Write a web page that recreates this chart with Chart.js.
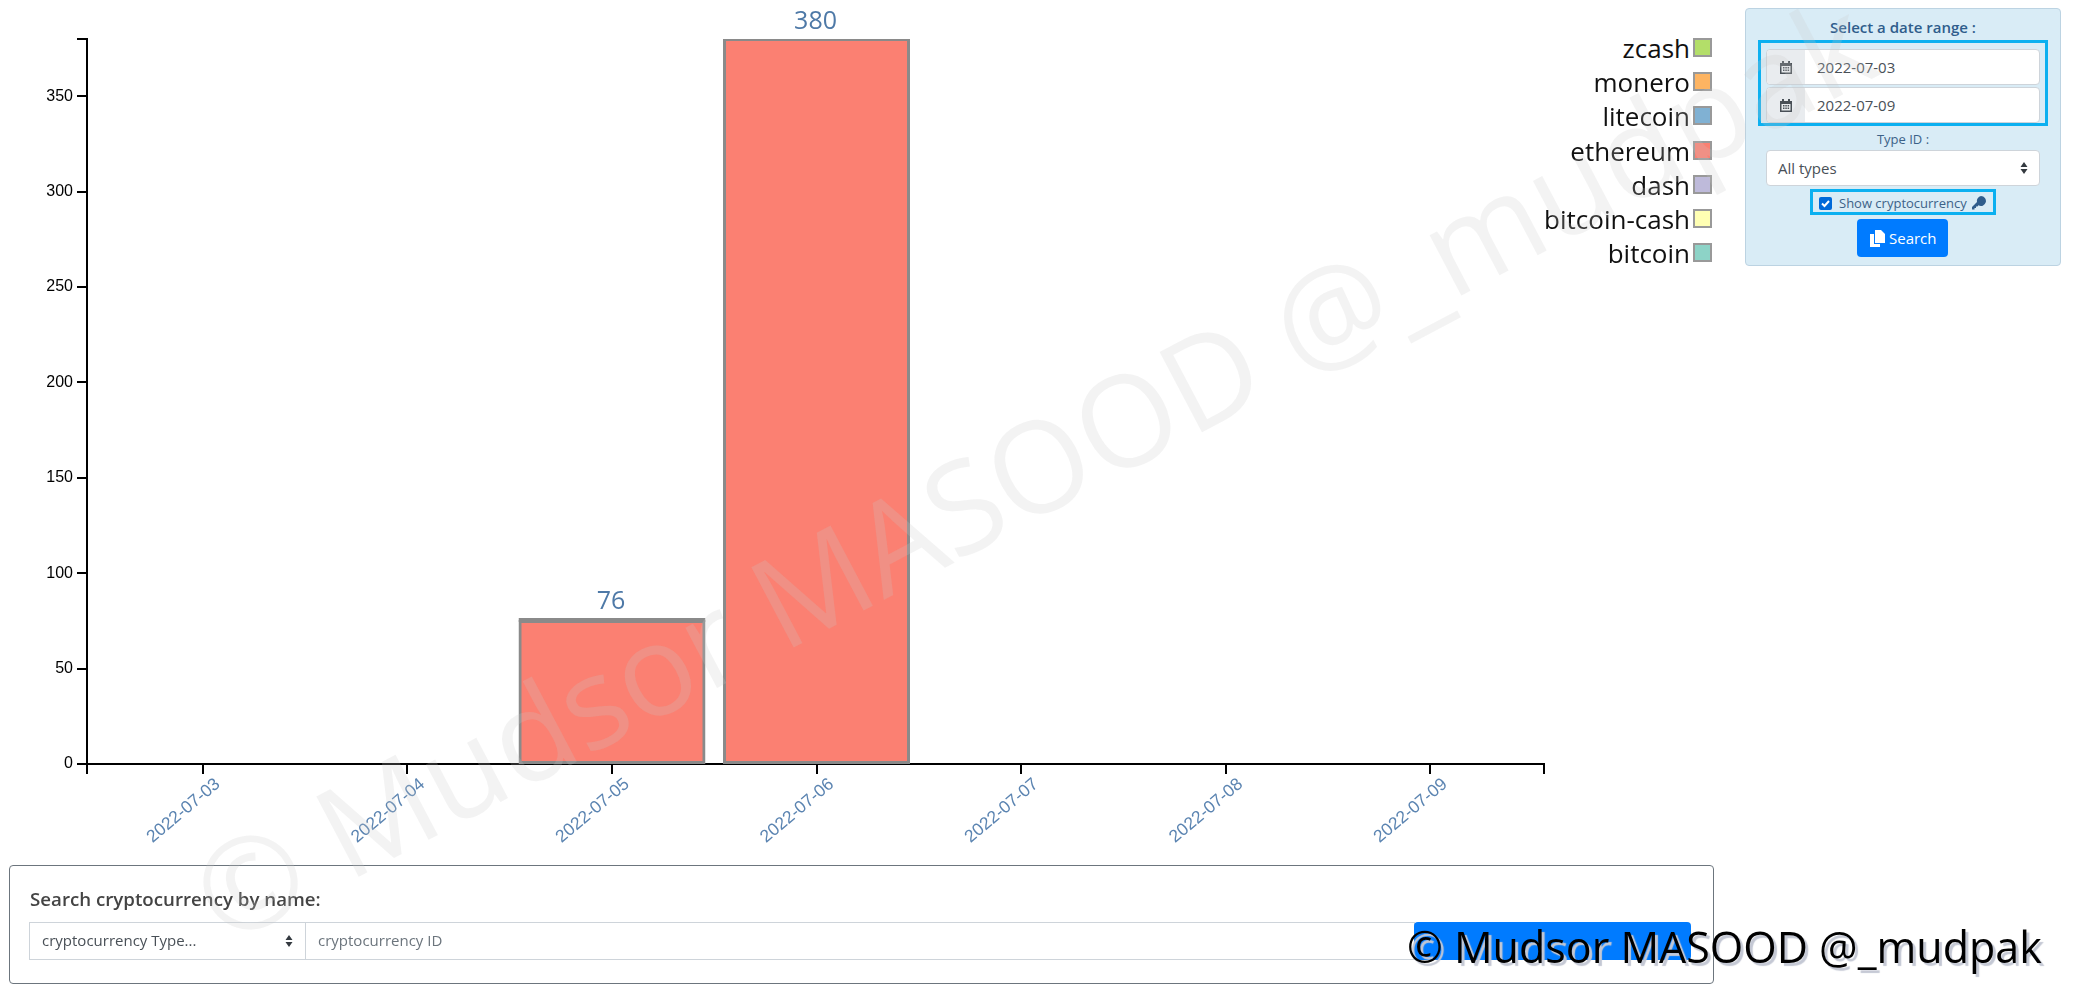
<!DOCTYPE html>
<html>
<head>
<meta charset="utf-8">
<title>cryptocurrency</title>
<script src="https://cdn.jsdelivr.net/npm/chart.js@4"></script>
<style>
    html, body { margin: 0; padding: 0; background: #fff; overflow: hidden; }
    body { width: 2074px; height: 987px; position: relative; font-family: "Open Sans", sans-serif; }
    .abs { position: absolute; box-sizing: border-box; }
    #chart { position: absolute; left: 0; top: 0; }
    .legend-text { position: absolute; right: 384px; font-size: 26px; line-height: 34px; color: #111; white-space: nowrap; }
    .legend-box { position: absolute; left: 1693px; width: 19px; height: 19px; border: 2px solid #999; box-sizing: border-box; }
    .panel { left: 1745px; top: 8px; width: 316px; height: 258px; background: #d9ecf6; border: 1px solid #bcd3e2; border-radius: 4px; }
    .hl { border: 3px solid #0cb0f0; }
    .field { background: #fff; border: 1px solid #ced4da; border-radius: 4px; color: #495057; font-size: 15px; }
    .addon { background: #e9ecef; border-radius: 4px 0 0 4px; display: flex; align-items: center; justify-content: center; }
    .txt { position: absolute; white-space: nowrap; }
    .btn { background: #007bff; border-radius: 4px; color: #fff; }
    .wm-big { position: absolute; left: 202px; top: 840px; font-size: 127px; white-space: nowrap; color: rgba(200, 200, 200, 0.22);
        transform: rotate(-27.8deg); transform-origin: 0 50%; pointer-events: none; line-height: 1; }
    .wm-small { position: absolute; left: 1407px; top: 922px; font-size: 43px; line-height: 50px; white-space: nowrap; color: #000;
        text-shadow: 3px 3px 1px #c4c8d4; }
</style>
</head>
<body>
<canvas id="chart" width="1600" height="880"></canvas>
<div id="legend"></div>

<div class="abs panel"></div>
<div class="txt" style="left:1745px;width:316px;text-align:center;top:17px;font-size:15px;font-weight:600;color:#2f5d8c;">Select a date range :</div>
<div class="abs hl" style="left:1758px;top:40px;width:290px;height:86px;"></div>
<div class="abs field" style="left:1766px;top:49px;width:274px;height:36px;"></div>
<div class="abs addon" style="left:1767px;top:50px;width:38px;height:34px;"><svg width="14" height="15" viewBox="0 0 14 15"><path fill="#495057" d="M1 3h2V1h2v2h4V1h2v2h2v11H1zM2.500 6v6.500h9V6zM4 7h1.500v1.500H4zM6.300 7h1.500v1.500H6.300zM8.600 7h1.500v1.500H8.600zM4 9.500h1.500V11H4zM6.300 9.500h1.500V11H6.300zM8.600 9.500h1.500V11H8.600z"/></svg></div>
<div class="txt" style="left:1817px;top:57px;font-size:15px;color:#495057;">2022-07-03</div>
<div class="abs field" style="left:1766px;top:87px;width:274px;height:36px;"></div>
<div class="abs addon" style="left:1767px;top:88px;width:38px;height:34px;"><svg width="14" height="15" viewBox="0 0 14 15"><path fill="#495057" d="M1 3h2V1h2v2h4V1h2v2h2v11H1zM2.500 6v6.500h9V6zM4 7h1.500v1.500H4zM6.300 7h1.500v1.500H6.300zM8.600 7h1.500v1.500H8.600zM4 9.500h1.500V11H4zM6.300 9.500h1.500V11H6.300zM8.600 9.500h1.500V11H8.600z"/></svg></div>
<div class="txt" style="left:1817px;top:95px;font-size:15px;color:#495057;">2022-07-09</div>
<div class="txt" style="left:1745px;width:316px;text-align:center;top:130px;font-size:13px;color:#3c6288;">Type ID :</div>
<div class="abs field" style="left:1766px;top:150px;width:274px;height:36px;"></div>
<div class="txt" style="left:1778px;top:158px;font-size:15px;color:#495057;">All types</div>
<svg class="abs" style="left:2020px;top:162px;" width="8" height="12" viewBox="0 0 8 12"><path fill="#343a40" d="M4 0l3.500 5H.5zM4 12L.5 7h7z"/></svg>
<div class="abs hl" style="left:1810px;top:189px;width:186px;height:26px;"></div>
<div class="abs" style="left:1819px;top:197px;width:13px;height:13px;background:#0069d9;border-radius:2px;"><svg style="display:block" width="13" height="13" viewBox="0 0 13 13"><path fill="none" stroke="#fff" stroke-width="2" d="M3 6.500l2.500 2.500 4.500-5"/></svg></div>
<div class="txt" style="left:1839px;top:194px;font-size:13px;color:#3c6288;">Show cryptocurrency</div>
<svg class="abs" style="left:1972px;top:196px;" width="14" height="14" viewBox="0 0 14 14"><path fill="#2f5d8c" d="M9 0a5 5 0 1 1-2.600 9.300L5.500 10.500H4V12H2.500v1.500H0v-2.500l5-5A5 5 0 0 1 9 0z"/></svg>
<div class="abs btn" style="left:1857px;top:219px;width:91px;height:38px;"></div>
<svg class="abs" style="left:1870px;top:230px;" width="15" height="17" viewBox="0 0 15 17"><path fill="#fff" d="M5 0h6l4 4v9H5zM0 4h4v10h6v3H0z"/></svg>
<div class="txt" style="left:1889px;top:228px;font-size:15px;color:#fff;">Search</div>

<div class="abs" style="left:9px;top:865px;width:1705px;height:119px;border:1px solid #6c757d;border-radius:4px;"></div>
<div class="txt" style="left:30px;top:886px;font-size:18.700px;font-weight:600;color:#444;">Search cryptocurrency by name:</div>
<div class="abs" style="left:29px;top:922px;width:277px;height:38px;border:1px solid #ced4da;"></div>
<div class="txt" style="left:42px;top:930px;font-size:15px;color:#495057;">cryptocurrency Type...</div>
<svg class="abs" style="left:285px;top:935px;" width="8" height="12" viewBox="0 0 8 12"><path fill="#343a40" d="M4 0l3.500 5H.5zM4 12L.5 7h7z"/></svg>
<div class="abs" style="left:305px;top:922px;width:1110px;height:38px;border:1px solid #ced4da;border-left:0;"></div>
<div class="txt" style="left:318px;top:930px;font-size:15px;color:#6c757d;">cryptocurrency ID</div>
<div class="abs btn" style="left:1414px;top:922px;width:277px;height:38px;"></div>

<div class="wm-big">© Mudsor MASOOD @_mudpak</div>
<div class="wm-small">© Mudsor MASOOD @_mudpak</div>

<script>
const dates = ['2022-07-03', '2022-07-04', '2022-07-05', '2022-07-06', '2022-07-07', '2022-07-08', '2022-07-09'];

const bitcoin = [0, 0, 0, 0, 0, 0, 0];
const bitcoinCash = [0, 0, 0, 0, 0, 0, 0];
const dash = [0, 0, 0, 0, 0, 0, 0];
const ethereum = [0, 0, 75, 380, 0, 0, 0];
const litecoin = [0, 0, 0, 0, 0, 0, 0];
const monero = [0, 0, 1, 0, 0, 0, 0];
const zcash = [0, 0, 0, 0, 0, 0, 0];

const yTicks = [0, 50, 100, 150, 200, 250, 300, 350, 380];
const yMax = 380;
const xMin = -0.567;
const xMax = 6.557;

// stacked bottom to top, the legend lists them the other way round
const names = ['bitcoin', 'bitcoin-cash', 'dash', 'ethereum', 'litecoin', 'monero', 'zcash'];
const values = [bitcoin, bitcoinCash, dash, ethereum, litecoin, monero, zcash];
const colors = ['#8dd3c7', '#ffffb3', '#bebada', '#fb8072', '#80b1d3', '#fdb462', '#b3de69'];
const strokeColor = '#8a8a8a';

const totals = dates.map((d, i) => values.reduce((sum, v) => sum + v[i], 0));

const legend = document.getElementById('legend');
names.slice().reverse().forEach((name, i) => {
    const color = colors[names.length - 1 - i];
    legend.innerHTML += `<div class="legend-text" style="top:${31 + i * 34.2}px">${name}</div>` +
        `<div class="legend-box" style="top:${38 + i * 34.2}px;background:${color}"></div>`;
});

const totalLabels = {
    id: 'totalLabels',
    afterDatasetsDraw(chart) {
        const ctx = chart.ctx;
        ctx.save();
        ctx.font = '25px "Open Sans"';
        ctx.fillStyle = '#4e79a7';
        ctx.textAlign = 'center';
        ctx.textBaseline = 'alphabetic';
        totals.forEach((total, i) => {
            if (total > 0) {
                ctx.fillText(total, chart.scales.x.getPixelForValue(i) - 1, chart.scales.y.getPixelForValue(total) - 10);
            }
        });
        ctx.restore();
    }
};

const ctx = document.getElementById('chart').getContext('2d');
const chart = new Chart(ctx, {
    type: 'bar',
    data: {
        datasets: names.map((name, s) => ({
            label: name,
            // empty days stay null, otherwise inflateAmount draws a strip on the axis
            data: values[s].map((v, i) => ({ x: i, y: v > 0 ? v : null })),
            // a bar this short is nothing but its stroke
            backgroundColor: (c) => (c.raw && c.raw.y < 2 ? strokeColor : colors[s]),
            borderColor: strokeColor,
            borderWidth: 3,
            borderSkipped: false,
            inflateAmount: 1,
            barThickness: 185
        }))
    },
    plugins: [totalLabels],
    options: {
        responsive: false,
        animation: false,
        layout: { padding: { top: 39, right: 56 } },
        plugins: { legend: { display: false }, tooltip: { enabled: false } },
        scales: {
            x: {
                type: 'linear',
                stacked: true,
                offset: false,
                z: 1,
                min: xMin,
                max: xMax,
                afterBuildTicks: (scale) => {
                    scale.ticks = [xMin, ...dates.map((d, i) => i), xMax].map(v => ({ value: v }));
                },
                afterFit: (scale) => { scale.height = 116; },
                grid: { offset: false, drawOnChartArea: false, color: '#000', lineWidth: 2, tickLength: 10 },
                border: { color: '#000', width: 2 },
                ticks: {
                    autoSkip: false,
                    minRotation: 40,
                    maxRotation: 40,
                    labelOffset: 15,
                    padding: 0,
                    color: '#5b84b1',
                    font: { family: 'Liberation Sans', size: 17.500 },
                    callback: (v) => (Number.isInteger(v) ? dates[v] : '')
                }
            },
            y: {
                stacked: true,
                z: 1,
                min: 0,
                max: yMax,
                afterBuildTicks: (scale) => {
                    scale.ticks = yTicks.map(v => ({ value: v }));
                },
                afterFit: (scale) => { scale.width = 87; },
                grid: { drawOnChartArea: false, color: '#000', lineWidth: 2, tickLength: 10 },
                border: { color: '#000', width: 2 },
                ticks: {
                    autoSkip: false,
                    padding: 4,
                    color: '#000',
                    font: { family: 'Liberation Sans', size: 16 },
                    callback: (v) => (v === yMax ? '' : v)
                }
            }
        }
    }
});
</script>
</body>
</html>
